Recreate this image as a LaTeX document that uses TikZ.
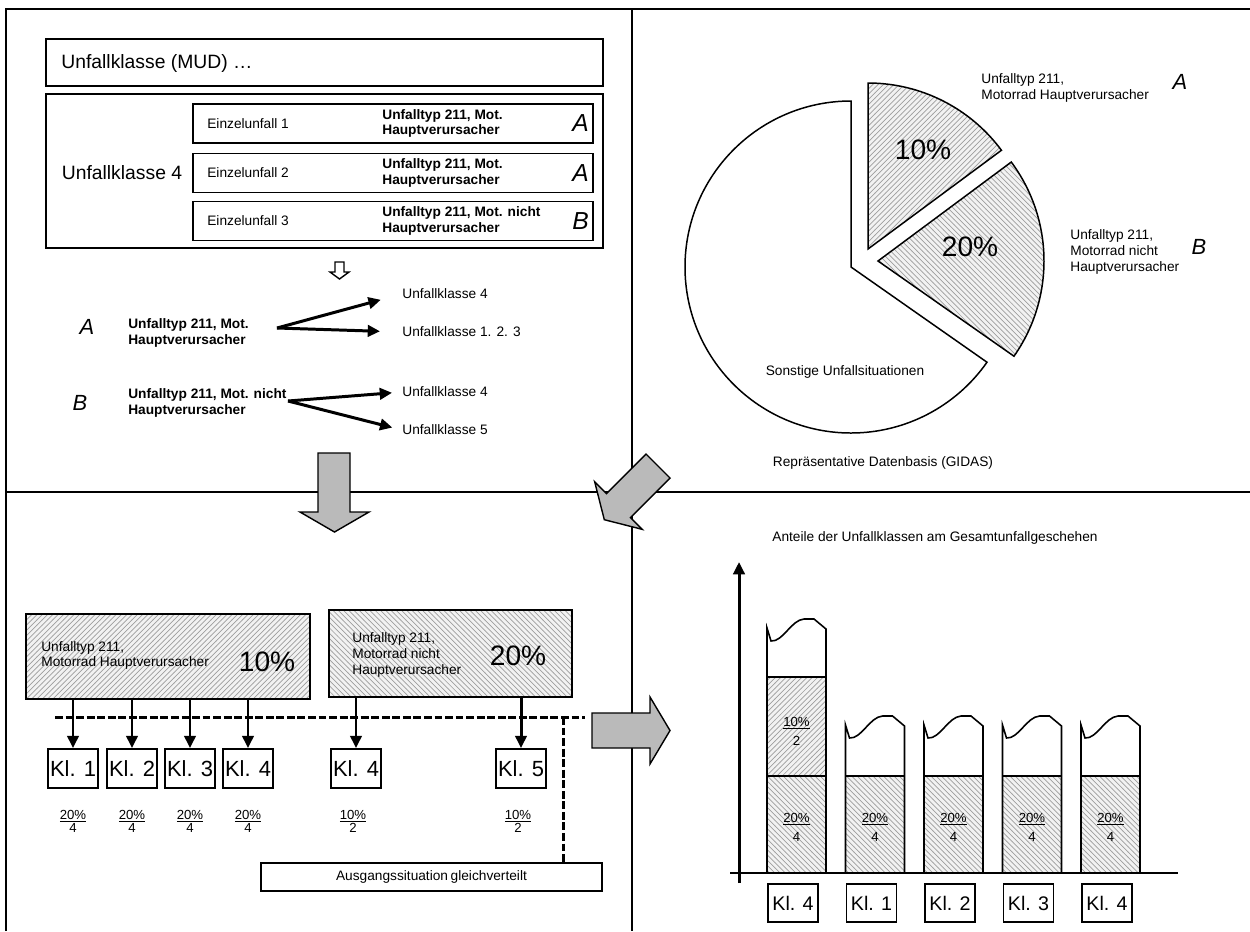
\documentclass[tikz,border=0pt]{standalone}
\usepackage{fontspec}
\setmainfont{Liberation Sans}
\usetikzlibrary{arrows.meta}
\usetikzlibrary{patterns}
\usetikzlibrary{calc}
\newcommand{\pxu}{0.02cm}
\newcommand{\divx}{632}
\newcommand{\divy}{492}
\newcommand{\klw}{50}
\newcommand{\klh}{39}
\newcommand{\barw}{59}
\newcommand{\barbase}{873}
\newcommand{\barmid}{776}
\newcommand{\piex}{851}
\newcommand{\piey}{267}
\newcommand{\pier}{166}
\newcommand{\fsmall}{\fontsize{7.8}{9}\selectfont}
\newcommand{\fmid}{\fontsize{11}{13}\selectfont}
\newcommand{\fkl}{\fontsize{12.5}{15}\selectfont}
\newcommand{\fklbar}{\fontsize{11.2}{13}\selectfont}
\newcommand{\fpct}{\fontsize{16}{18}\selectfont}
\newcommand{\fletter}{\fontsize{12.5}{14}\selectfont\itshape}
\newcommand{\anteil}[2]{\underline{#1}\\#2}
% bar with torn top edge: #1 left x, #2 top y
\newcommand{\barshape}[2]{
  (#1,\barbase) -- (#1,#2-2) -- (#1+4,#2+11)
    .. controls (#1+16,#2+12) and (#1+24,#2-10) .. (#1+37,#2-11)
    -- (#1+47,#2-11) -- (#1+\barw,#2-1) -- (#1+\barw,\barbase)
}

\begin{document}
\begin{tikzpicture}[x=\pxu, y=-\pxu, font=\fsmall,
    >={Triangle[length=7pt,width=6.5pt]},
    kasten/.style={draw, line width=1.1pt, inner sep=0pt},
    txt/.style={inner sep=0pt, align=left},
    buchst/.style={inner sep=0pt, font=\fletter},
    klbox/.style={kasten, minimum width=\klw*\pxu, minimum height=\klh*\pxu, font=\fkl},
    klbar/.style={kasten, minimum width=\klw*\pxu, minimum height=38*\pxu, font=\fklbar},
    bruch/.style={inner sep=0pt, align=center, font=\fontsize{7.5}{7.4}\selectfont},
    bruchbar/.style={bruch, font=\fontsize{7.5}{10.8}\selectfont},
    pfeil/.style={line width=1.7pt, ->},
    strich/.style={line width=1.7pt, dash pattern=on 4.5pt off 1.5pt},
    rahmen/.style={line width=1.1pt},
    barline/.style={draw, line width=0.9pt},
    blockpfeil/.style={draw, line width=0.8pt, fill=black!27, line join=miter},
    hatcha/.style={preaction={fill=black!5}, pattern=north east lines, pattern color=black!38},
    hatchb/.style={preaction={fill=black!5}, pattern=north west lines, pattern color=black!38}]
  \useasboundingbox (0,0) rectangle (1250,931);

  % frame and quadrants
  \draw[rahmen] (6,931) -- (6,9) -- (1250,9);
  \draw[rahmen] (6,\divy) -- (1250,\divy);
  \draw[rahmen] (\divx,9) -- (\divx,931);

  % accident classes (top left)
  \draw[kasten] (46,39) rectangle (603,86);
  \node[txt, anchor=west, font=\fmid] (mud) at (61,63) {Unfallklasse (MUD) \ldots};
  \draw[kasten] (46,94) rectangle (603,248);
  \node[txt, font=\fmid] (uk4) at (122,173) {Unfallklasse 4};
  \foreach \ey/\nr/\typ/\bu in {123.5/1/{Mot.}/A, 173/2/{Mot.}/A, 221/3/{Mot. nicht}/B} {
    \draw[kasten] (193,\ey-19.5) rectangle (593,\ey+19.5);
    \node[txt, anchor=west] (ez\nr) at (207,\ey) {Einzelunfall \nr};
    \node[txt, anchor=west, font=\fsmall\bfseries] (typ\nr) at (382,\ey) {Unfalltyp 211, \typ\\Hauptverursacher};
    \node[buchst, anchor=east, font=\fontsize{14}{14}\selectfont\itshape] (bu\nr) at (589,\ey) {\bu};
  }
  \draw[line width=0.8pt, fill=white] (335,262) -- (344,262) -- (344,272) -- (349,272)
    -- (339.5,279) -- (330,272) -- (335,272) -- cycle;

  % sorting A / B
  \node[buchst] (ka) at (87,327) {A};
  \node[txt, anchor=west, font=\fsmall\bfseries] (ta) at (128,333) {Unfalltyp 211, Mot.\\Hauptverursacher};
  \coordinate (asplit) at (277,328);
  \node[txt, anchor=west] (za1) at (402,294) {Unfallklasse 4};
  \node[txt, anchor=west] (za2) at (402,332) {Unfallklasse 1. 2. 3};
  \draw[pfeil, shorten >=0.44cm] (asplit) -- (za1.west);
  \draw[pfeil, shorten >=0.44cm] (asplit) -- (za2.west);
  \node[buchst] (kb) at (80,403) {B};
  \node[txt, anchor=west, font=\fsmall\bfseries] (tb) at (128,403) {Unfalltyp 211, Mot. nicht\\Hauptverursacher};
  \coordinate (bsplit) at (288,401);
  \node[txt, anchor=west] (zb1) at (402,392) {Unfallklasse 4};
  \node[txt, anchor=west] (zb2) at (402,430) {Unfallklasse 5};
  \draw[pfeil, shorten >=0.2cm] (bsplit) -- (zb1.west);
  \draw[pfeil, shorten >=0.2cm] (bsplit) -- (zb2.west);

  % pie chart (top right)
  \begin{scope}[line width=0.85pt]
    \draw[fill=white] (\piex,\piey) -- ++(-90:\pier)
      arc[start angle=-90, end angle=-325, radius=\pier] -- cycle;
    \draw[hatcha] (868,249) -- ++(-36.5:\pier)
      arc[start angle=-36.5, end angle=-90, radius=\pier] -- cycle;
    \draw[hatchb] (878,261) -- ++(35:\pier)
      arc[start angle=35, end angle=-36.6, radius=\pier] -- cycle;
  \end{scope}
  \node[font=\fpct] (pa) at (923,150) {10\%};
  \node[font=\fpct] (pb) at (970,247) {20\%};
  \node[txt, anchor=west] (la) at (981,88) {Unfalltyp 211,\\Motorrad Hauptverursacher};
  \node[buchst] (pla) at (1180,82) {A};
  \node[txt, anchor=west] (lb) at (1070,252) {Unfalltyp 211,\\Motorrad nicht\\Hauptverursacher};
  \node[buchst] (plb) at (1199,247) {B};
  \node[txt] (sonst) at (845,372) {Sonstige Unfallsituationen};
  \node[txt] (gidas) at (883,463) {Repräsentative Datenbasis (GIDAS)};

  % distribution (bottom left)
  \node[kasten, hatcha, minimum width=284*\pxu, minimum height=85*\pxu] (boxa) at (168,656.5) {};
  \node[txt, anchor=west] (txa) at (41,655.5) {Unfalltyp 211,\\Motorrad Hauptverursacher};
  \node[font=\fpct] (pcta) at (267,662) {10\%};
  \node[kasten, hatchb, minimum width=243*\pxu, minimum height=87*\pxu] (boxb) at (450.5,653.5) {};
  \node[txt, anchor=west] (txb) at (352,655) {Unfalltyp 211,\\Motorrad nicht\\Hauptverursacher};
  \node[font=\fpct] (pctb) at (518,656) {20\%};
  \node[kasten, minimum width=341*\pxu, minimum height=28*\pxu] (ausg) at (431.5,877) {Ausgangssituation\hspace{1.5pt}gleichverteilt};
  \coordinate (dstart) at (55,717);
  \coordinate (dend) at (585,717);
  \coordinate (dknick) at (563,717);
  \draw[strich] (dstart) -- (dend);
  \draw[strich] (dknick) -- (dknick |- ausg.north);
  \foreach \kx/\kn [count=\ki] in {73/1, 132/2, 190/3, 248/4} {
    \node[klbox] (kl\ki) at (\kx,768.5) {Kl. \kn};
    \draw[pfeil] (boxa.south -| kl\ki) -- (kl\ki.north);
    \node[bruch] (fr\ki) at (\kx,821) {\anteil{20\%}{4}};
  }
  \foreach \kx/\kn [count=\ki from 5] in {356/4, 521/5} {
    \node[klbox] (kl\ki) at (\kx,768.5) {Kl. \kn};
    \draw[pfeil] (boxb.south -| kl\ki) -- (kl\ki.north);
    \node[bruch] (fr\ki) at (\kx-3,821) {\anteil{10\%}{2}};
  }

  % block arrows
  \draw[blockpfeil] (318,453) -- (350,453) -- (350,512) -- (369,512) -- (334.5,532)
    -- (300,512) -- (318,512) -- cycle;
  \draw[blockpfeil] (646,454) -- (606.4,493.6) -- (594.7,481.9) -- (604.3,519.7)
    -- (642.1,529.3) -- (630.4,517.6) -- (670,478) -- cycle;
  \draw[blockpfeil] (592,713) -- (650,713) -- (650,697) -- (670,730.5) -- (650,764)
    -- (650,748) -- (592,748) -- cycle;

  % shares (bottom right)
  \node[txt, anchor=west] (titel) at (772,538) {Anteile der Unfallklassen am Gesamtunfallgeschehen};
  \coordinate (yfuss) at (739,883);
  \coordinate (yspitze) at (739,562);
  \coordinate (xa) at (730,873);
  \coordinate (xb) at (1178,873);
  \draw[hatcha, barline] (767,677) rectangle (767+\barw,\barmid);
  \foreach \bl/\bt/\kn [count=\bi] in {767/630/4, 845.5/727/1, 924/727/2, 1002.5/727/3, 1081/727/4} {
    \draw[hatchb, barline] (\bl,\barmid) rectangle (\bl+\barw,\barbase);
    \draw[barline] \barshape{\bl}{\bt};
    \node[bruchbar] (fb\bi) at (\bl+29.5,827) {\anteil{20\%}{4}};
    \node[klbar, anchor=north west] (kb\bi) at (\bl,883) {Kl. \kn};
  }
  \node[bruchbar] (fb0) at (796.5,731) {\anteil{10\%}{2}};
  \draw[line width=1.1pt] (xa) -- (xb);
  \draw[pfeil] (yfuss) -- (yspitze);
\end{tikzpicture}
\end{document}
